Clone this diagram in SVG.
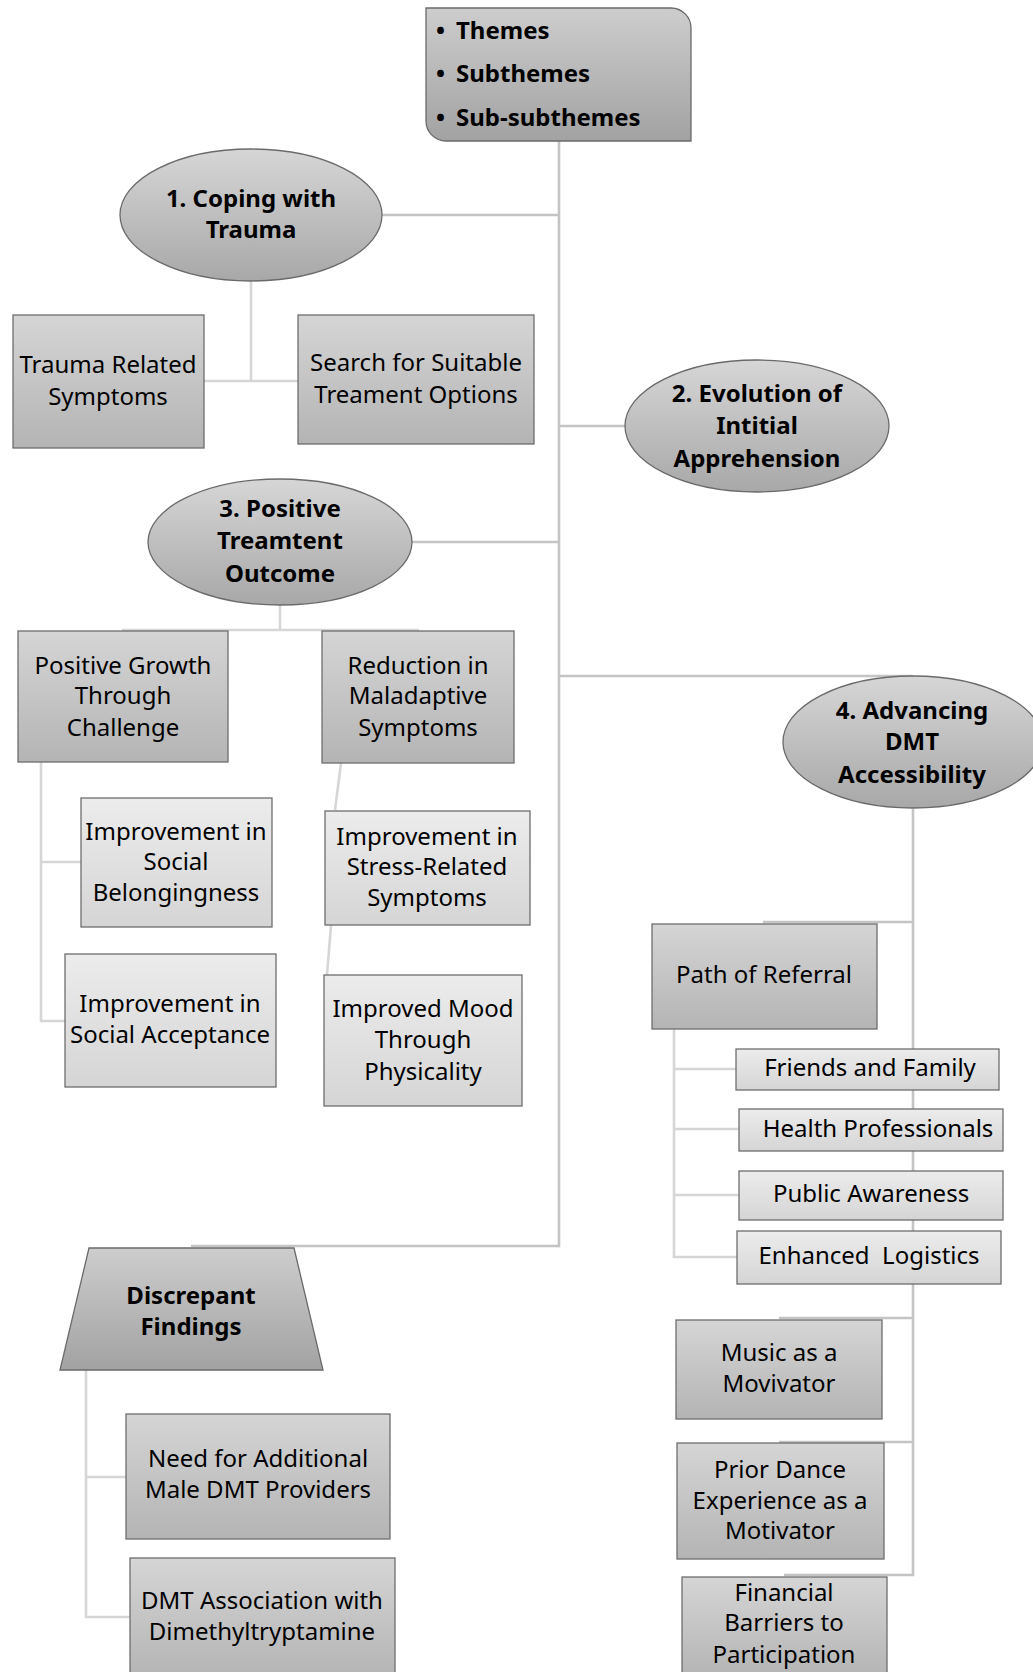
<svg xmlns="http://www.w3.org/2000/svg" width="1033" height="1672" viewBox="0 0 1033 1672">
<defs>
<linearGradient id="gMid" x1="0" y1="0" x2="0" y2="1"><stop offset="0" stop-color="#d5d5d5"/><stop offset="1" stop-color="#b4b4b4"/></linearGradient>
<linearGradient id="gLight" x1="0" y1="0" x2="0" y2="1"><stop offset="0" stop-color="#ececec"/><stop offset="1" stop-color="#d5d5d5"/></linearGradient>
<linearGradient id="gEll" x1="0" y1="0" x2="0" y2="1"><stop offset="0" stop-color="#d6d6d6"/><stop offset="1" stop-color="#a8a8a8"/></linearGradient>
<linearGradient id="gDark" x1="0" y1="0" x2="0" y2="1"><stop offset="0" stop-color="#cdcdcd"/><stop offset="1" stop-color="#a2a2a2"/></linearGradient>
<style>
text{font-family:"Noto Sans","Open Sans","DejaVu Sans",sans-serif;font-size:24px;fill:#000;text-anchor:middle;dominant-baseline:central}
.b{font-weight:bold}
.l{text-anchor:start}
.mid{fill:url(#gMid);stroke:#6e6e6e;stroke-width:1.3}
.light{fill:url(#gLight);stroke:#6e6e6e;stroke-width:1.3}
.ell{fill:url(#gEll);stroke:#6a6a6a;stroke-width:1.3}
.dark{fill:url(#gDark);stroke:#6a6a6a;stroke-width:1.3}
.c{fill:none;stroke:#c4c4c4;stroke-width:2.6}
.c2{fill:none;stroke:#d6d6d6;stroke-width:2.6}
</style>
</defs>
<rect width="1033" height="1672" fill="#fff"/>
<g id="connectors">
<path class="c" d="M559,141 V1246 H191"/>
<path class="c" d="M559,215 H382"/>
<path class="c" d="M559,426 H625"/>
<path class="c" d="M559,542 H412"/>
<path class="c" d="M559,676 H913"/>
<path class="c2" d="M251,281 V381 M204,381 H298"/>
<path class="c2" d="M280,605 V630 M122,630 H419"/>
<path class="c2" d="M41,762 V1021 H65 M41,862 H81"/>
<path class="c2" d="M341,763 L335,810 M331,925 L327,975"/>
<path class="c" d="M913,809 V1575 H784 M913,922 H763 M913,1318 H779 M913,1442 H779"/>
<path class="c2" d="M674,1029 V1257 H737 M674,1069 H736 M674,1129 H739 M674,1195 H739"/>
<path class="c2" d="M86,1370 V1617 H130 M86,1477 H126"/>
</g>
<g id="legend">
<path class="dark" d="M426,8 H671 A20,20 0 0 1 691,28 V141 H446 A20,20 0 0 1 426,121 Z"/>
<text class="b l" y="29"><tspan x="436">•</tspan><tspan x="456">Themes</tspan></text>
<text class="b l" y="72"><tspan x="436">•</tspan><tspan x="456">Subthemes</tspan></text>
<text class="b l" y="116"><tspan x="436">•</tspan><tspan x="456">Sub-subthemes</tspan></text>
</g>
<g id="theme1">
<ellipse class="ell" cx="251" cy="215" rx="131" ry="66"/>
<text class="b" x="251" y="197">1. Coping with</text>
<text class="b" x="251" y="228">Trauma</text>
</g>
<g id="trauma-symptoms">
<rect class="mid" x="13" y="315" width="191" height="133"/>
<text x="108" y="363">Trauma Related</text>
<text x="108" y="395">Symptoms</text>
</g>
<g id="search-treatment">
<rect class="mid" x="298" y="315" width="236" height="129"/>
<text x="416" y="361">Search for Suitable</text>
<text x="416" y="393">Treament Options</text>
</g>
<g id="theme2">
<ellipse class="ell" cx="757" cy="426" rx="132" ry="66"/>
<text class="b" x="757" y="392">2. Evolution of</text>
<text class="b" x="757" y="424">Intitial</text>
<text class="b" x="757" y="457">Apprehension</text>
</g>
<g id="theme3">
<ellipse class="ell" cx="280" cy="542" rx="132" ry="63"/>
<text class="b" x="280" y="507">3. Positive</text>
<text class="b" x="280" y="539">Treamtent</text>
<text class="b" x="280" y="572">Outcome</text>
</g>
<g id="positive-growth">
<rect class="mid" x="18" y="631" width="210" height="131"/>
<text x="123" y="664">Positive Growth</text>
<text x="123" y="694">Through</text>
<text x="123" y="726">Challenge</text>
</g>
<g id="reduction">
<rect class="mid" x="322" y="631" width="192" height="132"/>
<text x="418" y="664">Reduction in</text>
<text x="418" y="694">Maladaptive</text>
<text x="418" y="726">Symptoms</text>
</g>
<g id="belongingness">
<rect class="light" x="81" y="798" width="191" height="129"/>
<text x="176" y="830">Improvement in</text>
<text x="176" y="860">Social</text>
<text x="176" y="891">Belongingness</text>
</g>
<g id="acceptance">
<rect class="light" x="65" y="954" width="211" height="133"/>
<text x="170" y="1002">Improvement in</text>
<text x="170" y="1033">Social Acceptance</text>
</g>
<g id="stress">
<rect class="light" x="325" y="811" width="205" height="114"/>
<text x="427" y="835">Improvement in</text>
<text x="427" y="865">Stress-Related</text>
<text x="427" y="896">Symptoms</text>
</g>
<g id="mood">
<rect class="light" x="324" y="975" width="198" height="131"/>
<text x="423" y="1007">Improved Mood</text>
<text x="423" y="1038">Through</text>
<text x="423" y="1070">Physicality</text>
</g>
<g id="theme4">
<ellipse class="ell" cx="913" cy="742" rx="130" ry="66"/>
<text class="b" x="912" y="709">4. Advancing</text>
<text class="b" x="912" y="740">DMT</text>
<text class="b" x="912" y="773">Accessibility</text>
</g>
<g id="path-referral">
<rect class="mid" x="652" y="924" width="225" height="105"/>
<text x="764" y="973">Path of Referral</text>
</g>
<g id="friends">
<rect class="light" x="736" y="1049" width="263" height="41"/>
<text x="870" y="1066">Friends and Family</text>
</g>
<g id="health">
<rect class="light" x="739" y="1109" width="264" height="42"/>
<text x="878" y="1127">Health Professionals</text>
</g>
<g id="public">
<rect class="light" x="739" y="1171" width="264" height="49"/>
<text x="871" y="1192">Public Awareness</text>
</g>
<g id="logistics">
<rect class="light" x="737" y="1231" width="264" height="53"/>
<text x="869" y="1254" xml:space="preserve">Enhanced  Logistics</text>
</g>
<g id="music">
<rect class="mid" x="676" y="1320" width="206" height="99"/>
<text x="779" y="1351">Music as a</text>
<text x="779" y="1382">Movivator</text>
</g>
<g id="prior-dance">
<rect class="mid" x="677" y="1443" width="207" height="116"/>
<text x="780" y="1468">Prior Dance</text>
<text x="780" y="1499">Experience as a</text>
<text x="780" y="1529">Motivator</text>
</g>
<g id="financial">
<rect class="mid" x="682" y="1577" width="205" height="100"/>
<text x="784" y="1591">Financial</text>
<text x="784" y="1621">Barriers to</text>
<text x="784" y="1653">Participation</text>
</g>
<g id="discrepant">
<path class="dark" d="M89,1248 H294 L323,1370 H60 Z"/>
<text class="b" x="191" y="1294">Discrepant</text>
<text class="b" x="191" y="1325">Findings</text>
</g>
<g id="male-providers">
<rect class="mid" x="126" y="1414" width="264" height="125"/>
<text x="258" y="1457">Need for Additional</text>
<text x="258" y="1488">Male DMT Providers</text>
</g>
<g id="dmt-association">
<rect class="mid" x="130" y="1558" width="265" height="120"/>
<text x="262" y="1599">DMT Association with</text>
<text x="262" y="1630">Dimethyltryptamine</text>
</g>
</svg>
